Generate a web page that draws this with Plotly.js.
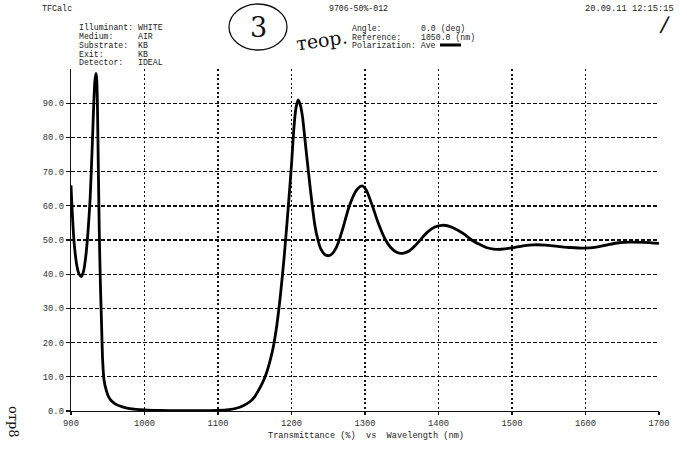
<!DOCTYPE html>
<html>
<head>
<meta charset="utf-8">
<script src="https://cdn.plot.ly/plotly-3.0.1.min.js"></script>
<style>
  html, body { margin: 0; padding: 0; background: #fff; }
  #chart { width: 687px; height: 449px; }
</style>
</head>
<body>
<div id="chart"></div>
<script>
// Wavelength (nm)
const wavelength = [
  900, 901, 903, 905, 908, 911, 914, 917, 920, 923, 926, 929, 931, 932.5, 934, 935, 936, 937, 938.5, 940, 941.5, 943, 945, 948, 951, 955, 960, 970, 980,
  1000, 1020, 1050, 1080, 1100, 1115, 1125, 1135, 1145, 1150, 1155, 1160, 1165, 1170, 1175, 1180, 1185, 1190, 1195, 1200,
  1203, 1206, 1209, 1212, 1215, 1218, 1223, 1228, 1232, 1236, 1240, 1245, 1250, 1255, 1260, 1265, 1270, 1278, 1285, 1290,
  1296, 1302, 1310, 1318, 1328, 1335, 1343, 1351, 1360, 1368, 1375, 1385, 1395, 1405, 1415, 1425, 1435, 1445, 1455, 1465,
  1475, 1485, 1500, 1515, 1530, 1545, 1560, 1580, 1598, 1615, 1630, 1645, 1660, 1680, 1700
];
// Transmittance (%)
const transmittance = [
  66, 61, 53, 47.5, 42.5, 40, 39.3, 40.8, 45, 52, 62, 78, 90, 96.5, 98.7, 97, 89, 74, 52, 37, 26, 15, 9, 6, 4.2, 3.0, 2.1, 1.2, 0.7,
  0.3, 0.15, 0.1, 0.1, 0.15, 0.4, 0.8, 1.6, 3, 4.2, 6, 8, 10.5, 14, 18.5, 25, 34, 45, 58, 72,
  82, 88.5, 91, 89.5, 86, 80, 70, 60.5, 54, 50, 47.3, 45.8, 45.4, 45.9, 47.4, 50, 53.5, 59.5, 63.3, 65,
  65.8, 64.5, 60, 55, 50, 47.8, 46.4, 46.1, 46.8, 48.3, 50, 52.3, 53.8, 54.3, 54, 53, 51.7, 50, 48.8, 47.8,
  47.3, 47.3, 47.7, 48.3, 48.6, 48.5, 48.2, 47.8, 47.6, 47.9, 48.6, 49.2, 49.4, 49.3, 49.0
];
const yTickVals = [0, 10, 20, 30, 40, 50, 60, 70, 80, 90];
const yTickText = ["0.0", "10.0", "20.0", "30.0", "40.0", "50.0", "60.0", "70.0", "80.0", "90.0"];
const xTickVals = [900, 1000, 1100, 1200, 1300, 1400, 1500, 1600, 1700];
const xTickText = ["900", "1000", "1100", "1200", "1300", "1400", "1500", "1600", "1700"];

const W = 687, H = 449;
const M = {l: 71, r: 28, t: 69, b: 38};
const PW = W - M.l - M.r, PH = H - M.t - M.b;
const px = x => (x - M.l) / PW;
const py = y => (H - M.b - y) / PH;

const mono = "Liberation Mono, DejaVu Sans Mono, monospace";
const hand = "DejaVu Serif, serif";

function txt(text, x, y, size, opts) {
  return Object.assign({
    text: text, xref: 'paper', yref: 'paper', x: px(x), y: py(y),
    xanchor: 'left', yanchor: 'middle', showarrow: false,
    font: {family: mono, size: size || 8.2, color: '#222'}
  }, opts || {});
}

const annotations = [
  txt("TFCalc", 40, 9, 8.4),
  txt("Illuminant:", 77, 28), txt("WHITE", 136, 28),
  txt("Medium:", 77, 36.7), txt("AIR", 136, 36.7),
  txt("Substrate:", 77, 45.4), txt("KB", 136, 45.4),
  txt("Exit:", 77, 54.1), txt("KB", 136, 54.1),
  txt("Detector:", 77, 62.8), txt("IDEAL", 136, 62.8),
  txt("9706-50%-012", 327, 9, 8.2),
  txt("20.09.11 12:15:15", 583, 9, 8.7),
  txt("Angle:", 350, 28.5), txt("0.0 (deg)", 419, 28.5),
  txt("Reference:", 350, 37), txt("1050.0 (nm)", 419, 37),
  txt("Polarization: Ave", 350, 45.5),
  txt("Transmittance (%)  vs  Wavelength (nm)", 366, 436, 8.6, {xanchor: 'center'}),
  // handwritten notes
  txt("3", 248, 27, 27, {font: {family: hand, size: 27, color: '#111'}}),
  txt("теор.", 292, 40, 19, {font: {family: hand, size: 19, color: '#111'}, textangle: -8}),
  txt("/", 657, 24, 22, {font: {family: hand, size: 22, color: '#111'}, textangle: 10}),
  txt("отр8", 14, 422, 13, {xanchor: 'center', font: {family: hand, size: 13, color: '#111'}, textangle: 90})
];

const shapes = [
  {type: 'line', xref: 'paper', yref: 'paper', x0: px(440), x1: px(461), y0: py(45), y1: py(45),
   line: {color: '#000', width: 3}},
  {type: 'circle', xref: 'paper', yref: 'paper', x0: px(229), x1: px(287), y0: py(50), y1: py(4),
   line: {color: '#111', width: 1.3}}
];

const trace = {
  x: wavelength, y: transmittance, type: 'scatter', mode: 'lines',
  line: {color: '#000', width: 2.8, shape: 'spline', smoothing: 0.6},
  hoverinfo: 'skip'
};

const layout = {
  width: W, height: H,
  margin: M,
  paper_bgcolor: '#fff', plot_bgcolor: '#fff',
  showlegend: false,
  xaxis: {
    range: [900, 1700], tickvals: xTickVals, ticktext: xTickText,
    showgrid: true, gridcolor: '#111', gridwidth: 1.4, griddash: '2px,2.5px',
    showline: true, linecolor: '#111', linewidth: 1.3, zeroline: false,
    ticks: 'outside', ticklen: 3, tickcolor: '#111', tickwidth: 1.2,
    tickfont: {family: mono, size: 8.8, color: '#333'}, fixedrange: true
  },
  yaxis: {
    range: [0, 100], tickvals: yTickVals, ticktext: yTickText,
    showgrid: true, gridcolor: '#111', gridwidth: 1.4, griddash: '4px,2px',
    showline: true, linecolor: '#111', linewidth: 1.3, zeroline: false,
    ticks: 'outside', ticklen: 4, tickcolor: '#111', tickwidth: 1.2,
    tickfont: {family: mono, size: 8.8, color: '#333'}, fixedrange: true
  },
  annotations: annotations,
  shapes: shapes
};

Plotly.newPlot('chart', [trace], layout, {staticPlot: true, displayModeBar: false});
</script>
</body>
</html>
